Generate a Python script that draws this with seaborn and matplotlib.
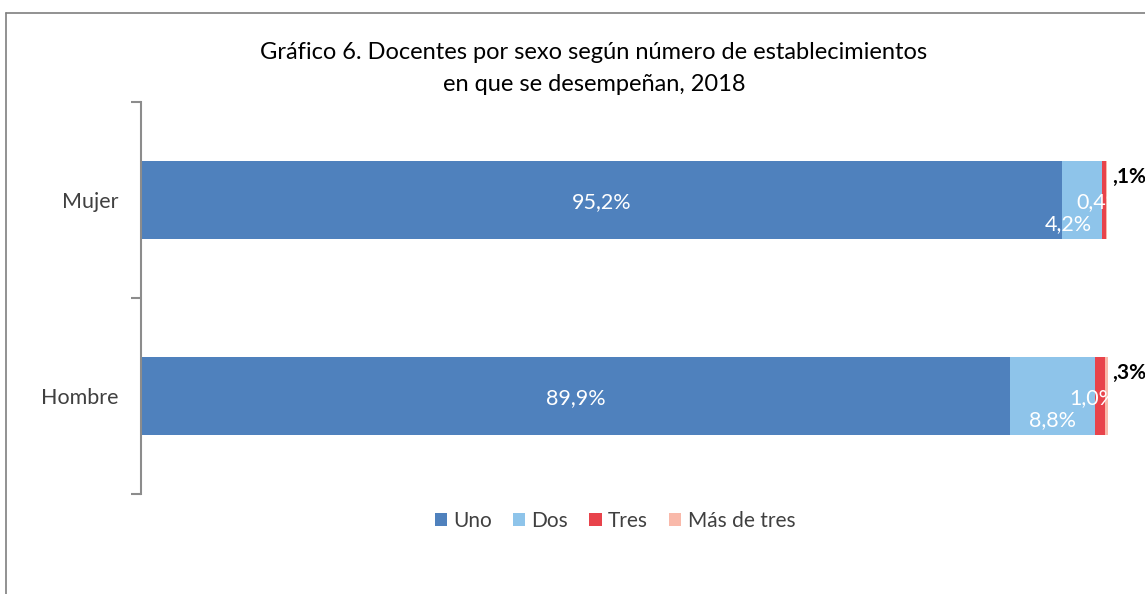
import numpy as np
import pandas as pd
import matplotlib
matplotlib.use("Agg")
import matplotlib.pyplot as plt
import seaborn as sns

# datos del grafico
sexos = ["Mujer", "Hombre"]
categorias = ["Uno", "Dos", "Tres", "Más de tres"]
uno = [95.2, 89.9]
dos = [4.2, 8.8]
tres = [0.4, 1.0]
mas_de_tres = [0.1, 0.3]
etiquetas_mas = [",1%", ",3%"]

colores = ["#4F81BD", "#8EC4EA", "#E8434B", "#F9B9AA"]

sns.set_theme(style="white")
plt.rcParams["font.family"] = ["Lato", "DejaVu Sans"]

df = pd.DataFrame({"sexo": sexos, "Uno": uno, "Dos": dos, "Tres": tres, "Más de tres": mas_de_tres})
acum = df[categorias].cumsum(axis=1)
acum["sexo"] = df["sexo"]

fig = plt.figure(figsize=(11.45, 5.94), dpi=100)
ax = fig.add_axes([141 / 1145, 1 - 494 / 594, (1108 - 141) / 1145, (494 - 102) / 594])

# barras apiladas: se dibuja el acumulado de mayor a menor
for cat, col in zip(categorias[::-1], colores[::-1]):
    sns.barplot(data=acum, y="sexo", x=cat, orient="h", color=col, width=0.403,
                saturation=1, ax=ax, label=cat, linewidth=0)

ax.set_xlim(0, 100)
ax.set_ylim(1.5, -0.5)
ax.set_xlabel("")
ax.set_ylabel("")
ax.set_xticks([])

for s in ["top", "right", "bottom"]:
    ax.spines[s].set_visible(False)
ax.spines["left"].set_color("#8c8c8c")
ax.spines["left"].set_linewidth(1.5)
ax.set_yticks([-0.5, 0.5, 1.5])
ax.set_yticklabels([])
ax.tick_params(axis="y", which="major", left=True, length=7, width=1.5, color="#8c8c8c", direction="out")
ax.set_yticks([0, 1], minor=True)
ax.set_yticklabels(sexos, minor=True)
ax.tick_params(axis="y", which="minor", length=0, pad=16, labelsize=15.5, labelcolor="#404040")

barras_dos = ax.containers[2]  # acumulado hasta "Dos"

fmt = lambda v: f"{v:.1f}%".replace(".", ",")
for i in range(len(sexos)):
    ax.text(uno[i] / 2, i + 0.01, fmt(uno[i]), color="white", ha="center", va="center", fontsize=15.5)
    fin_dos = uno[i] + dos[i]
    ax.text(min(uno[i] + dos[i] / 2, fin_dos - 3.5), i + 0.125, fmt(dos[i]),
            color="white", ha="center", va="center", fontsize=15.5)
    # etiqueta de "Tres" queda tapada por el resto de la barra
    t = ax.text(fin_dos - 2.7, i + 0.01, fmt(tres[i]),
                color="white", ha="left", va="center", fontsize=15.5)
    t.set_clip_path(barras_dos[i])
    ax.text(100.45, i - 0.115, etiquetas_mas[i], color="black", fontweight="bold",
            ha="left", va="center", fontsize=15, clip_on=False)

h, l = ax.get_legend_handles_labels()
orden = [l.index(c) for c in categorias]
ax.legend([h[k] for k in orden], categorias, loc="upper center", bbox_to_anchor=(0.49, 0.005),
          ncol=4, frameon=False, fontsize=15, handlelength=0.6, handleheight=0.6,
          handletextpad=0.3, columnspacing=1.0, labelcolor="#404040")

fig.text(594 / 1145, 1 - 68.5 / 594,
         "Gráfico 6. Docentes por sexo según número de establecimientos\nen que se desempeñan, 2018",
         ha="center", va="center", fontsize=17, color="black", linespacing=1.62)

# marco del area del grafico
fig.add_artist(plt.Line2D([6 / 1145, 6 / 1145], [0, 1 - 13 / 594], color="#7f7f7f", lw=1.2))
fig.add_artist(plt.Line2D([6 / 1145, 1], [1 - 13 / 594, 1 - 13 / 594], color="#7f7f7f", lw=1.2))

fig.savefig("out.png", dpi=100, facecolor="white")
